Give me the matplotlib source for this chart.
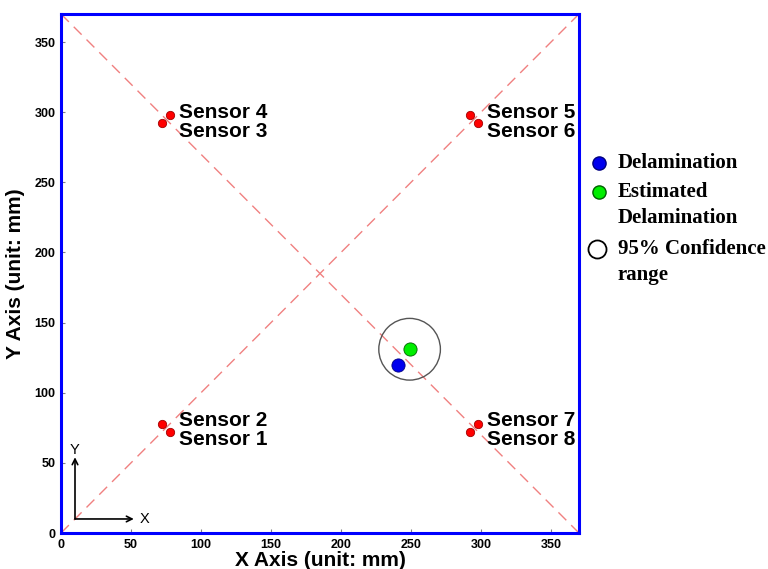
import matplotlib
matplotlib.use('Agg')
import matplotlib.pyplot as plt
import numpy as np
from matplotlib.patches import Circle

plt.rcParams['font.family'] = 'Liberation Sans'

# sensor positions (mm)
sensor_names = ['Sensor 1', 'Sensor 2', 'Sensor 3', 'Sensor 4',
                'Sensor 5', 'Sensor 6', 'Sensor 7', 'Sensor 8']
sensor_x = [78, 72, 72, 78, 292, 298, 298, 292]
sensor_y = [72, 78, 292, 298, 298, 292, 78, 72]

# delamination results
delam_xy = (241, 120)
est_xy = (249, 131)
conf_radius = 22

plate = 370
ticks = [0, 50, 100, 150, 200, 250, 300, 350]

fig = plt.figure(figsize=(7.68, 5.69), dpi=100)
ax = fig.add_axes([61/768, 36/569, 518/768, 519/569])

# diagonals
ax.plot([0, plate], [0, plate], color='#f08080', lw=1, ls=(0, (8, 5)), zorder=1)
ax.plot([0, plate], [plate, 0], color='#f08080', lw=1, ls=(0, (8, 5)), zorder=1)

# sensors
ax.plot(sensor_x, sensor_y, 'o', ms=6, mfc='red', mec='#a00000', mew=0.6, ls='none', zorder=3)

# sensor labels: upper one of each pair, then lower one
for i in range(0, 8, 2):
    a, b = i, i + 1
    hi, lo = (a, b) if sensor_y[a] > sensor_y[b] else (b, a)
    tx = max(sensor_x[a], sensor_x[b]) + 6
    ax.text(tx, sensor_y[hi] + 2, sensor_names[hi], fontsize=15, fontweight='bold',
            va='center', ha='left')
    ax.text(tx, sensor_y[hi] - 11.5, sensor_names[lo], fontsize=15, fontweight='bold',
            va='center', ha='left')

# confidence circle and points
ax.add_patch(Circle(est_xy, conf_radius, fill=False, ec='#555555', lw=1, zorder=2))
ax.plot(*delam_xy, 'o', ms=9.5, mfc='#0000ee', mec='#000080', mew=0.6, zorder=4)
ax.plot(*est_xy, 'o', ms=9.5, mfc='#00ee00', mec='#006000', mew=0.6, zorder=4)

# coordinate arrows
ax.annotate('', xy=(52, 10), xytext=(10, 10),
            arrowprops=dict(arrowstyle='->', color='black', lw=1.2, shrinkA=0, shrinkB=0))
ax.annotate('', xy=(10, 54), xytext=(10, 10),
            arrowprops=dict(arrowstyle='->', color='black', lw=1.2, shrinkA=0, shrinkB=0))
ax.text(56, 10, 'X', fontsize=10.5, va='center', ha='left')
ax.text(10, 59, 'Y', fontsize=10.5, va='center', ha='center')

ax.set_xlim(0, plate)
ax.set_ylim(0, plate)
ax.set_xticks(ticks)
ax.set_yticks(ticks)
ax.tick_params(direction='in', length=3, width=0.8, color='gray', pad=4, labelsize=9)
for lab in ax.get_xticklabels() + ax.get_yticklabels():
    lab.set_fontweight('bold')
for sp in ax.spines.values():
    sp.set_color('blue')
    sp.set_linewidth(2.2)

ax.set_xlabel('X Axis (unit: mm)', fontsize=15, fontweight='bold', labelpad=0)
ax.set_ylabel('Y Axis (unit: mm)', fontsize=15, fontweight='bold', labelpad=7)

# legend drawn by hand to the right of the plate
ax.plot([1.039], [0.713], 'o', ms=9.5, mfc='#0000ee', mec='#000080', transform=ax.transAxes, clip_on=False)
ax.plot([1.039], [0.657], 'o', ms=9.5, mfc='#00ee00', mec='#006000', transform=ax.transAxes, clip_on=False)
ax.plot([1.035], [0.547], 'o', ms=13, mfc='white', mec='black', mew=1.3, transform=ax.transAxes, clip_on=False)
leg_lines = [('Delamination', 0.713), ('Estimated', 0.657), ('Delamination', 0.607),
             ('95% Confidence', 0.547), ('range', 0.497)]
for s, yy in leg_lines:
    ax.text(1.075, yy, s, transform=ax.transAxes, fontsize=15, fontweight='bold',
            family='Liberation Serif', va='center', ha='left')

fig.savefig('out.png', dpi=100)
